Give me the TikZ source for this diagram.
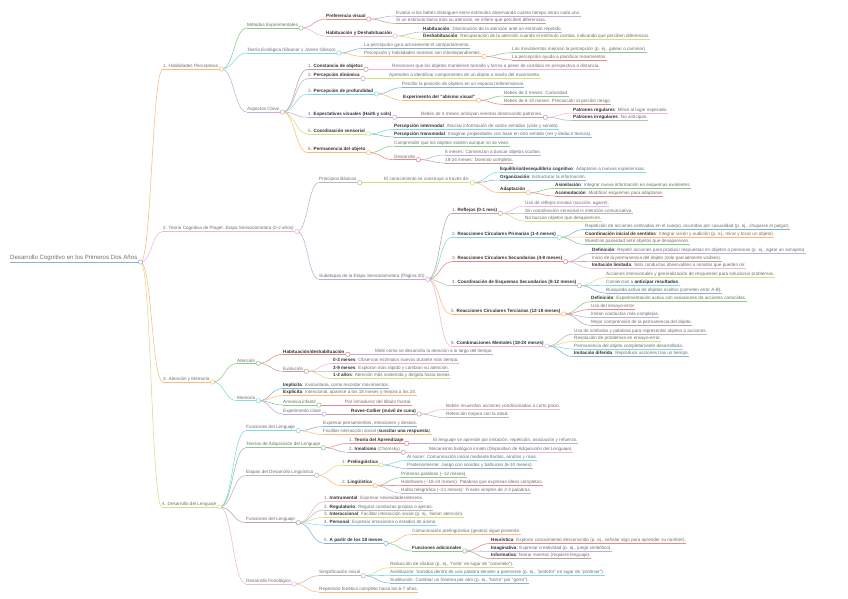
\documentclass[tikz,border=0pt]{standalone}
\usepackage{fontspec}
\setmainfont{Liberation Sans}
\usetikzlibrary{calc}
\pgfdeclarelayer{fg}
\pgfsetlayers{main,fg}
\definecolor{mmtxt}{HTML}{707070}
\definecolor{mmbold}{HTML}{333333}
\definecolor{kblue}{HTML}{1F77B4}
\definecolor{korange}{HTML}{FF7F0E}
\definecolor{kgreen}{HTML}{2CA02C}
\definecolor{kred}{HTML}{D62728}
\definecolor{kpurple}{HTML}{9467BD}
\definecolor{kbrown}{HTML}{8C564B}
\definecolor{kpink}{HTML}{E377C2}
\definecolor{kgray}{HTML}{7F7F7F}
\definecolor{kolive}{HTML}{BCBD22}
\definecolor{kcyan}{HTML}{17BECF}
\colorlet{cblue}{kblue!55!white}
\colorlet{corange}{korange!55!white}
\colorlet{cgreen}{kgreen!55!white}
\colorlet{cred}{kred!55!white}
\colorlet{cpurple}{kpurple!55!white}
\colorlet{cbrown}{kbrown!55!white}
\colorlet{cpink}{kpink!55!white}
\colorlet{cgray}{kgray!55!white}
\colorlet{colive}{kolive!55!white}
\colorlet{ccyan}{kcyan!55!white}
\newcommand\mmB[1]{{\color{mmbold}\bfseries #1}}
\newcommand\mmnode[6]{%
  \node[mmt] (#1) at (#3,#4) {#6};
  \draw[mml,#5] let \p1=(#2-k), \p2=(#1.south west), \n1={(\x2-\x1)/2} in
     (\p1) .. controls +(\n1,0) and +(-\n1,0) .. (\p2);
  \draw[mml,#5] (#1.south west) -- (#1.south east);
}
\newcommand\mmcirc[2]{%
  \coordinate (#1-k) at ([xshift=3pt]#1.south east);
  \draw[mml,#2] (#1.south east) -- (#1-k);
  \begin{pgfonlayer}{fg}\draw[mml,#2,fill=white] (#1-k) circle (2.2pt);\end{pgfonlayer}
}
\begin{document}
\begin{tikzpicture}[x=1pt,y=-1pt,
  mmt/.style={anchor=south west,inner xsep=0pt,inner ysep=0.8pt,
    font=\fontsize{4.6pt}{5pt}\selectfont,text=mmtxt},
  mml/.style={line width=0.55pt}]
\useasboundingbox (0,0) rectangle (848,599);
\fill[white] (0,0) rectangle (848,599);
% root
\node[mmt,font=\fontsize{6.1pt}{7pt}\selectfont] (root) at (10,262) {Desarrollo Cognitivo en los Primeros Dos Años};
\draw[mml,cblue] (root.south west) -- (root.south east);
\mmcirc{root}{cblue}
% ---------- 1
\mmnode{h1}{root}{163}{69}{corange}{1. Habilidades Perceptivas}\mmcirc{h1}{corange}
\mmnode{me}{h1}{247}{28}{cgreen}{Métodos Experimentales}\mmcirc{me}{cgreen}
\mmnode{pv}{me}{326}{19}{cred}{\mmB{Preferencia visual}}\mmcirc{pv}{cred}
\mmnode{pva}{pv}{396}{16}{cpurple}{Evalúa si los bebés distinguen entre estímulos observando cuánto tiempo miran cada uno.}
\mmnode{pvb}{pv}{396}{23.4}{cbrown}{Si un estímulo llama más su atención, se infiere que perciben diferencias.}
\mmnode{hd}{me}{326}{36}{cpink}{\mmB{Habituación y Deshabituación}}\mmcirc{hd}{cpink}
\mmnode{hda}{hd}{423}{32}{cgray}{\mmB{Habituación}: Disminución de la atención ante un estímulo repetido.}
\mmnode{hdb}{hd}{423}{39.4}{colive}{\mmB{Deshabituación}: Recuperación de la atención cuando el estímulo cambia, indicando que perciben diferencias.}
\mmnode{te}{h1}{247}{53}{ccyan}{Teoría Ecológica (Eleanor y James Gibson)}\mmcirc{te}{ccyan}
\mmnode{tea}{te}{364}{48.4}{cblue}{La percepción guía activamente el comportamiento.}
\mmnode{teb}{te}{364}{56.5}{corange}{Percepción y habilidades motoras son interdependientes.}\mmcirc{teb}{corange}
\mmnode{teba}{teb}{512}{52.7}{cgreen}{Los movimientos mejoran la percepción (p. ej., gatear o caminar).}
\mmnode{tebb}{teb}{512}{60}{cred}{La percepción ayuda a planificar movimientos.}
\mmnode{ak}{h1}{247}{112}{cpurple}{Aspectos Clave}\mmcirc{ak}{cpurple}
\mmnode{a1}{ak}{308}{69.3}{cbrown}{1. \mmB{Constancia de objetos}}\mmcirc{a1}{cbrown}
\mmnode{a1a}{a1}{392}{69.3}{cpink}{Reconocer que los objetos mantienen tamaño y forma a pesar de cambios en perspectiva o distancia.}
\mmnode{a2}{ak}{308}{78.7}{cgray}{2. \mmB{Percepción dinámica}}\mmcirc{a2}{cgray}
\mmnode{a2a}{a2}{389}{78.7}{colive}{Aprenden a identificar componentes de un objeto a través del movimiento.}
\mmnode{a3}{ak}{308}{94}{ccyan}{3. \mmB{Percepción de profundidad}}\mmcirc{a3}{ccyan}
\mmnode{a3a}{a3}{402}{87.7}{cblue}{Percibir la posición de objetos en un espacio tridimensional.}
\mmnode{a3b}{a3}{403}{100.3}{corange}{\mmB{Experimento del "abismo visual"}}\mmcirc{a3b}{corange}
\mmnode{a3ba}{a3b}{504}{96}{cgreen}{Bebés de 3 meses: Curiosidad.}
\mmnode{a3bb}{a3b}{504}{104.4}{cred}{Bebés de 6-10 meses: Precaución al percibir riesgo.}
\mmnode{a4}{ak}{308}{117.3}{cpurple}{4. \mmB{Expectativas visuales (Haith y cols)}}\mmcirc{a4}{cpurple}
\mmnode{a4a}{a4}{421}{117.3}{cbrown}{Bebés de 3 meses anticipan eventos observando patrones.}\mmcirc{a4a}{cbrown}
\mmnode{a4aa}{a4a}{573}{113}{cpink}{\mmB{Patrones regulares}: Miran al lugar esperado.}
\mmnode{a4ab}{a4a}{573}{120.5}{cgray}{\mmB{Patrones irregulares}: No anticipan.}
\mmnode{a5}{ak}{308}{134}{colive}{5. \mmB{Coordinación sensorial}}\mmcirc{a5}{colive}
\mmnode{a5a}{a5}{394}{129.5}{ccyan}{\mmB{Percepción intermodal}: Asociar información de varios sentidos (vista y sonido).}
\mmnode{a5b}{a5}{394}{137}{cblue}{\mmB{Percepción transmodal}: Imaginar propiedades con base en otro sentido (ver y deducir textura).}
\mmnode{a6}{ak}{308}{152.7}{corange}{6. \mmB{Permanencia del objeto}}\mmcirc{a6}{corange}
\mmnode{a6a}{a6}{394}{146}{cgreen}{Comprender que los objetos existen aunque no se vean.}
\mmnode{a6b}{a6}{394}{159.7}{cred}{Desarrollo}\mmcirc{a6b}{cred}
\mmnode{a6ba}{a6b}{445}{155}{cpurple}{8 meses: Comienzan a buscar objetos ocultos.}
\mmnode{a6bb}{a6b}{445}{163}{cbrown}{18-24 meses: Dominio completo.}
% ---------- 2
\mmnode{h2}{root}{163}{231.5}{cpink}{2. Teoría Cognitiva de Piaget: Etapa Sensoriomotora (0-2 años)}\mmcirc{h2}{cpink}
\mmnode{pb}{h2}{319}{182.7}{cgray}{Principios Básicos}\mmcirc{pb}{cgray}
\mmnode{pba}{pb}{384}{182.7}{colive}{El conocimiento se construye a través de:}\mmcirc{pba}{colive}
\mmnode{pbaa}{pba}{500}{172}{ccyan}{\mmB{Equilibrio/desequilibrio cognitivo}: Adaptarse a nuevas experiencias.}
\mmnode{pbab}{pba}{500}{180}{cblue}{\mmB{Organización}: Estructurar la información.}
\mmnode{pbac}{pba}{500}{192.7}{corange}{\mmB{Adaptación}}\mmcirc{pbac}{corange}
\mmnode{pbaca}{pbac}{555}{188.4}{cgreen}{\mmB{Asimilación}: Integrar nueva información en esquemas existentes.}
\mmnode{pbacb}{pbac}{555}{196}{cred}{\mmB{Acomodación}: Modificar esquemas para adaptarse.}
\mmnode{sb}{h2}{319}{279.3}{cpurple}{Subetapas de la Etapa Sensoriomotora (Página 20)}\mmcirc{sb}{cpurple}
\mmnode{sa}{sb}{452}{213.3}{cbrown}{1. \mmB{Reflejos (0-1 mes)}}\mmcirc{sa}{cbrown}
\mmnode{saa}{sa}{525}{206}{cpink}{Uso de reflejos innatos (succión, agarre).}
\mmnode{sab}{sa}{525}{213.7}{cgray}{Sin coordinación sensorial ni intención comunicativa.}
\mmnode{sac}{sa}{525}{221}{colive}{No buscan objetos que desaparecen.}
\mmnode{sB}{sb}{452}{237.3}{ccyan}{2. \mmB{Reacciones Circulares Primarias (1-4 meses)}}\mmcirc{sB}{ccyan}
\mmnode{sBa}{sB}{585}{229.4}{cblue}{Repetición de acciones centradas en el cuerpo, ocurridas por casualidad (p. ej., chuparse el pulgar).}
\mmnode{sBb}{sB}{585}{237}{corange}{\mmB{Coordinación inicial de sentidos}: Integrar visión y audición (p. ej., mirar y tocar un objeto).}
\mmnode{sBc}{sB}{585}{244.4}{cgreen}{Muestran pasividad ante objetos que desaparecen.}
\mmnode{sC}{sb}{452}{261.7}{cred}{3. \mmB{Reacciones Circulares Secundarias (4-8 meses)}}\mmcirc{sC}{cred}
\mmnode{sCa}{sC}{592}{253.4}{cpurple}{\mmB{Definición}: Repetir acciones para producir respuestas en objetos o personas (p. ej., agitar un sonajero).}
\mmnode{sCb}{sC}{592}{261.4}{cbrown}{Inicio de la permanencia del objeto (solo parcialmente visibles).}
\mmnode{sCc}{sC}{592}{268.4}{cpink}{\mmB{Imitación limitada}: Solo conductas observables o sonidos que pueden oír.}
\mmnode{sD}{sb}{452}{285.7}{cgray}{4. \mmB{Coordinación de Esquemas Secundarios (8-12 meses)}}\mmcirc{sD}{cgray}
\mmnode{sDa}{sD}{606}{277.7}{colive}{Acciones intencionales y generalización de respuestas para solucionar problemas.}
\mmnode{sDb}{sD}{606}{285.4}{ccyan}{Comienzan a \mmB{anticipar resultados}.}
\mmnode{sDc}{sD}{606}{293}{cblue}{Búsqueda activa de objetos ocultos (cometen error A-B).}
\mmnode{sE}{sb}{451}{314}{corange}{5. \mmB{Reacciones Circulares Terciarias (12-18 meses)}}\mmcirc{sE}{corange}
\mmnode{sEa}{sE}{591}{301.7}{cgreen}{\mmB{Definición}: Experimentación activa con variaciones de acciones conocidas.}
\mmnode{sEb}{sE}{591}{309.4}{cred}{Uso del ensayo-error.}
\mmnode{sEc}{sE}{591}{317.4}{cpurple}{Imitan conductas más complejas.}
\mmnode{sEd}{sE}{591}{325.4}{cbrown}{Mejor comprensión de la permanencia del objeto.}
\mmnode{sF}{sb}{451}{346}{cpink}{6. \mmB{Combinaciones Mentales (18-24 meses)}}\mmcirc{sF}{cpink}
\mmnode{sFa}{sF}{574}{334}{cgray}{Uso de símbolos y palabras para representar objetos o acciones.}
\mmnode{sFb}{sF}{574}{341.4}{colive}{Resolución de problemas en ensayo-error.}
\mmnode{sFc}{sF}{574}{349}{ccyan}{Permanencia del objeto completamente desarrollada.}
\mmnode{sFd}{sF}{574}{356.7}{cblue}{\mmB{Imitación diferida}: Reproducir acciones tras un tiempo.}
% ---------- 3
\mmnode{h3}{root}{163}{382}{corange}{3. Atención y Memoria}\mmcirc{h3}{corange}
\mmnode{att}{h3}{237}{363.3}{cgreen}{Atención}\mmcirc{att}{cgreen}
\mmnode{atta}{att}{283}{354.3}{cred}{\mmB{Habituación/deshabituación}}\mmcirc{atta}{cred}
\mmnode{attaa}{atta}{375}{354.3}{cpurple}{Mide cómo se desarrolla la atención a lo largo del tiempo.}
\mmnode{attb}{att}{283}{371.3}{cbrown}{Evolución}\mmcirc{attb}{cbrown}
\mmnode{attba}{attb}{333}{363.4}{cpink}{\mmB{0-3 meses}: Observan estímulos nuevos durante más tiempo.}
\mmnode{attbb}{attb}{333}{371.4}{cgray}{\mmB{3-9 meses}: Exploran más rápido y cambian su atención.}
\mmnode{attbc}{attb}{333}{378.7}{colive}{\mmB{1-2 años}: Atención más sostenida y dirigida hacia tareas.}
\mmnode{mem}{h3}{237}{400.7}{ccyan}{Memoria}\mmcirc{mem}{ccyan}
\mmnode{mema}{mem}{283}{388.4}{cblue}{\mmB{Implícita}: Involuntaria, como recordar movimientos.}
\mmnode{memb}{mem}{283}{395.6}{corange}{\mmB{Explícita}: Intencional, aparece a los 18 meses y mejora a los 24.}
\mmnode{memc}{mem}{283}{405}{cgreen}{Amnesia infantil}\mmcirc{memc}{cgreen}
\mmnode{memca}{memc}{345}{405}{cred}{Por inmadurez del lóbulo frontal.}
\mmnode{memd}{mem}{283}{414}{cpurple}{Experimento clave}\mmcirc{memd}{cpurple}
\mmnode{memda}{memd}{351}{414}{cbrown}{\mmB{Rovee-Collier (móvil de cuna)}}\mmcirc{memda}{cbrown}
\mmnode{memdaa}{memda}{446}{409.4}{cpink}{Bebés recuerdan acciones condicionadas a corto plazo.}
\mmnode{memdab}{memda}{446}{417.7}{cgray}{Retención mejora con la edad.}
% ---------- 4
\mmnode{h4}{root}{162}{507}{colive}{4. Desarrollo del Lenguaje}\mmcirc{h4}{colive}
\mmnode{fl}{h4}{246}{430.7}{ccyan}{Funciones del Lenguaje}\mmcirc{fl}{ccyan}
\mmnode{fla}{fl}{323}{426.7}{cblue}{Expresar pensamientos, emociones y deseos.}
\mmnode{flb}{fl}{323}{434.4}{corange}{Facilitar interacción social (\mmB{suscitar una respuesta}).}
\mmnode{ta}{h4}{246}{447.7}{cgreen}{Teorías de Adquisición del Lenguaje}\mmcirc{ta}{cgreen}
\mmnode{taa}{ta}{349}{443.3}{cred}{1. \mmB{Teoría del Aprendizaje}}\mmcirc{taa}{cred}
\mmnode{taaa}{taa}{433}{443.3}{cpurple}{El lenguaje se aprende por imitación, repetición, asociación y refuerzo.}
\mmnode{tab}{ta}{349}{452.3}{cbrown}{2. \mmB{Innatismo} (Chomsky)}\mmcirc{tab}{cbrown}
\mmnode{taba}{tab}{429}{452.3}{cpink}{Mecanismo biológico innato (Dispositivo de Adquisición del Lenguaje).}
\mmnode{ed}{h4}{246}{475.3}{cgray}{Etapas del Desarrollo Lingüístico}\mmcirc{ed}{cgray}
\mmnode{eda}{ed}{342}{465}{colive}{1. \mmB{Prelingüística}}\mmcirc{eda}{colive}
\mmnode{edaa}{eda}{407}{460.4}{ccyan}{Al nacer: Comunicación inicial mediante llantos, arrullos y risas.}
\mmnode{edab}{eda}{407}{468.4}{cblue}{Posteriormente: Juego con sonidos y balbuceo (6-10 meses).}
\mmnode{edb}{ed}{342}{485.7}{corange}{2. \mmB{Lingüística}}\mmcirc{edb}{corange}
\mmnode{edba}{edb}{401}{477.7}{cgreen}{Primeras palabras (\textasciitilde 12 meses).}
\mmnode{edbb}{edb}{401}{485.4}{cred}{Holofrases (\textasciitilde 18-24 meses): Palabras que expresan ideas completas.}
\mmnode{edbc}{edb}{401}{493}{cpurple}{Habla telegráfica (\textasciitilde 21 meses): Frases simples de 2-3 palabras.}
\mmnode{fm}{h4}{246}{522.7}{cbrown}{Funciones del Lenguaje}\mmcirc{fm}{cbrown}
\mmnode{fma}{fm}{324}{501.7}{cpink}{1. \mmB{Instrumental}: Expresar necesidades/deseos.}
\mmnode{fmb}{fm}{324}{510}{cgray}{2. \mmB{Regulatorio}: Regular conductas propias o ajenas.}
\mmnode{fmc}{fm}{324}{517.4}{colive}{3. \mmB{Interaccional}: Facilitar interacción social (p. ej., llamar atención).}
\mmnode{fmd}{fm}{324}{525}{ccyan}{4. \mmB{Personal}: Expresar emociones o estados de ánimo.}
\mmnode{fme}{fm}{324}{543.3}{cblue}{5. \mmB{A partir de los 18 meses}}\mmcirc{fme}{cblue}
\mmnode{fmea}{fme}{412}{534.4}{corange}{Comunicación prelingüística (gestos) sigue presente.}
\mmnode{fmeb}{fme}{412}{551}{cgreen}{\mmB{Funciones adicionales}}\mmcirc{fmeb}{cgreen}
\mmnode{fmeba}{fmeb}{491}{543.4}{cred}{\mmB{Heurística}: Explorar conocimiento desconocido (p. ej., señalar algo para aprender su nombre).}
\mmnode{fmebb}{fmeb}{491}{551.4}{cpurple}{\mmB{Imaginativa}: Expresar creatividad (p. ej., juego simbólico).}
\mmnode{fmebc}{fmeb}{491}{558.7}{cbrown}{\mmB{Informativa}: Narrar eventos (requiere lenguaje).}
\mmnode{df}{h4}{246}{584}{cpink}{Desarrollo Fonológico}\mmcirc{df}{cpink}
\mmnode{dfa}{df}{319}{575.7}{cgray}{Simplificación inicial}\mmcirc{dfa}{cgray}
\mmnode{dfaa}{dfa}{390}{567.7}{colive}{Reducción de sílabas (p. ej., "melo" en lugar de "caramelo").}
\mmnode{dfab}{dfa}{390}{575.4}{ccyan}{Asimilación: Sonidos dentro de una palabra tienden a parecerse (p. ej., "profefor" en lugar de "profesor").}
\mmnode{dfac}{dfa}{390}{583}{cblue}{Sustitución: Cambiar un fonema por otro (p. ej., "borro" por "gorro").}
\mmnode{dfb}{df}{319}{592}{corange}{Repertorio fonético completo hacia los 6-7 años.}
\end{tikzpicture}
\end{document}
